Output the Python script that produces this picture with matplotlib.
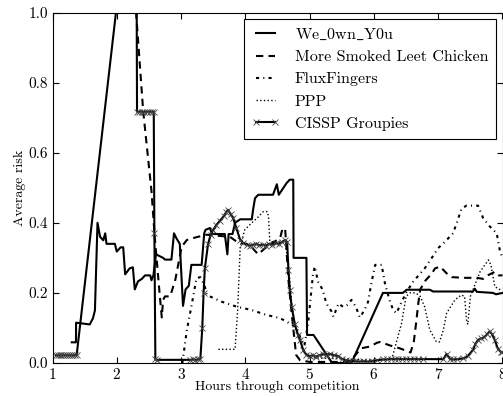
import matplotlib
matplotlib.use("Agg")
import matplotlib.pyplot as plt

plt.rcParams['font.family'] = ['cmr10', 'DejaVu Serif']
plt.rcParams['mathtext.fontset'] = 'cm'
plt.rcParams['axes.unicode_minus'] = False
plt.rcParams['axes.formatter.use_mathtext'] = True

# We_0wn_Y0u
we_x = [1.30, 1.365, 1.367, 1.58, 1.63, 1.66, 1.70, 1.74, 1.79, 1.82, 1.84, 1.97, 2.00,
        2.06, 2.10, 2.13, 2.20, 2.25, 2.28, 2.33, 2.39, 2.44, 2.52, 2.54, 2.57, 2.61,
        2.72, 2.75, 2.85, 2.89, 2.93, 2.98, 3.03, 3.07, 3.12, 3.16, 3.32, 3.36, 3.38,
        3.45, 3.48, 3.68, 3.72, 3.74, 3.80, 3.84, 3.92, 4.10, 4.12, 4.15, 4.20, 4.43,
        4.49, 4.52, 4.64, 4.69, 4.745, 4.75, 4.95, 4.96, 5.06, 5.35, 5.65, 6.14, 6.45,
        6.51, 6.87, 6.92, 7.54, 7.57, 7.60, 7.85, 7.90, 8.00]
we_y = [0.059, 0.059, 0.115, 0.11, 0.128, 0.15, 0.40, 0.36, 0.35, 0.37, 0.34, 0.34, 0.318,
        0.33, 0.33, 0.253, 0.27, 0.273, 0.21, 0.233, 0.24, 0.25, 0.25, 0.236, 0.25, 0.31,
        0.30, 0.295, 0.295, 0.37, 0.355, 0.34, 0.163, 0.21, 0.22, 0.28, 0.28, 0.37, 0.38,
        0.385, 0.368, 0.368, 0.31, 0.368, 0.368, 0.40, 0.41, 0.41, 0.437, 0.47, 0.48, 0.48,
        0.51, 0.48, 0.513, 0.523, 0.523, 0.30, 0.30, 0.08, 0.08, 0.0, 0.0, 0.20, 0.20,
        0.209, 0.209, 0.204, 0.204, 0.212, 0.203, 0.20, 0.196, 0.20]

# More Smoked Leet Chicken
msl_x = [2.22, 2.30, 2.41, 2.54, 2.59, 2.67, 2.70, 2.72, 2.75, 2.83, 2.91, 2.96, 3.01,
         3.09, 3.24, 3.40, 3.76, 3.86, 3.95, 4.02, 4.10, 4.20, 4.26, 4.35, 4.46, 4.54,
         4.58, 4.62, 4.67, 4.72, 4.77, 4.79, 4.85, 5.00, 5.60, 5.70, 5.80, 5.94, 6.05,
         6.10, 6.25, 6.40, 6.50, 6.57, 6.62, 6.66, 6.69, 6.72, 6.80, 6.90, 6.95, 7.03,
         7.13, 7.21, 7.40, 7.60, 7.70, 7.78, 7.88, 7.94, 8.00]
msl_y = [1.20, 1.0, 0.72, 0.49, 0.36, 0.19, 0.13, 0.18, 0.19, 0.19, 0.237, 0.285, 0.332,
         0.351, 0.359, 0.366, 0.36, 0.347, 0.342, 0.34, 0.33, 0.31, 0.32, 0.335, 0.347, 0.356,
         0.385, 0.38, 0.237, 0.142, 0.056, 0.023, 0.008, 0.003, 0.003, 0.02, 0.042, 0.047, 0.058,
         0.06, 0.05, 0.042, 0.035, 0.03, 0.06, 0.12, 0.17, 0.21, 0.235, 0.255, 0.27, 0.275,
         0.256, 0.245, 0.243, 0.243, 0.24, 0.251, 0.26, 0.25, 0.25]

# FluxFingers
ff_x = [3.02, 3.09, 3.16, 3.24, 3.30, 3.37, 3.40, 3.63, 3.86, 4.10, 4.33, 4.54, 4.69,
        4.80, 4.85, 4.92, 4.98, 5.05, 5.08, 5.13, 5.20, 5.26, 5.34, 5.37, 5.45, 5.52,
        5.58, 5.65, 5.72, 5.78, 5.85, 5.91, 5.96, 6.02, 6.12, 6.17, 6.25, 6.30, 6.35,
        6.42, 6.50, 6.61, 6.79, 6.90, 7.00, 7.10, 7.23, 7.29, 7.36, 7.44, 7.62, 7.70,
        7.80, 7.91, 7.96, 8.00]
ff_y = [0.0, 0.094, 0.161, 0.242, 0.245, 0.218, 0.194, 0.175, 0.161, 0.151, 0.137, 0.128, 0.113,
        0.10, 0.075, 0.05, 0.12, 0.25, 0.275, 0.232, 0.21, 0.17, 0.147, 0.132, 0.17, 0.16,
        0.165, 0.18, 0.16, 0.13, 0.15, 0.175, 0.228, 0.28, 0.28, 0.228, 0.175, 0.151, 0.142,
        0.17, 0.20, 0.232, 0.27, 0.30, 0.328, 0.345, 0.37, 0.40, 0.44, 0.449, 0.449, 0.413,
        0.39, 0.37, 0.32, 0.30]

# PPP
ppp_x = [3.58, 3.84, 3.88, 3.92, 3.99, 4.10, 4.18, 4.28, 4.34, 4.36, 4.38, 4.45, 4.55,
         4.62, 4.67, 4.72, 4.78, 4.85, 4.92, 5.00, 5.50, 6.00, 6.28, 6.35, 6.43, 6.50,
         6.56, 6.65, 6.72, 6.79, 6.87, 6.97, 7.02, 7.08, 7.13, 7.26, 7.36, 7.41, 7.44,
         7.46, 7.50, 7.65, 7.78, 7.82, 7.88, 7.95, 8.00]
ppp_y = [0.039, 0.039, 0.15, 0.332, 0.38, 0.40, 0.413, 0.432, 0.432, 0.418, 0.347, 0.345, 0.345,
         0.35, 0.28, 0.17, 0.10, 0.06, 0.03, 0.015, 0.012, 0.008, 0.012, 0.06, 0.113, 0.19,
         0.20, 0.20, 0.19, 0.16, 0.094, 0.061, 0.06, 0.094, 0.142, 0.18, 0.194, 0.19, 0.123,
         0.11, 0.19, 0.26, 0.294, 0.28, 0.218, 0.21, 0.21]

# CISSP Groupies
cg_x = [1.05, 1.08, 1.11, 1.14, 1.17, 1.20, 1.23, 1.26, 1.29, 1.32, 1.35, 1.376,
        2.30, 2.315, 2.35, 2.39, 2.43, 2.47, 2.51, 2.555, 2.575, 2.585, 2.60, 2.63,
        3.14, 3.18, 3.22, 3.26, 3.30, 3.33, 3.35, 3.37, 3.42, 3.46, 3.50, 3.55, 3.60,
        3.66, 3.70, 3.73, 3.77, 3.81, 3.86, 3.92, 3.97, 4.02, 4.07, 4.12, 4.17, 4.22,
        4.27, 4.32, 4.37, 4.42, 4.47, 4.52, 4.57, 4.62, 4.65, 4.67, 4.69, 4.72, 4.77,
        4.82, 4.85, 4.90, 4.95, 5.00, 5.05, 5.10, 5.15, 5.20, 5.26, 5.32, 5.38, 5.44,
        5.50, 5.56, 5.63, 5.70, 5.77, 5.83, 5.90, 5.97, 6.05, 6.14, 6.20, 6.26, 6.32,
        6.38, 6.44, 6.50, 6.56, 6.62, 6.68, 6.77, 7.08, 7.13, 7.18, 7.23, 7.30, 7.39,
        7.46, 7.54, 7.58, 7.62, 7.67, 7.72, 7.76, 7.80, 7.84, 7.88, 7.93, 7.97, 8.00]
cg_y = [0.022, 0.022, 0.022, 0.022, 0.022, 0.022, 0.022, 0.022, 0.022, 0.022, 0.022, 0.023,
        1.50, 0.717, 0.717, 0.717, 0.717, 0.717, 0.717, 0.717, 0.717, 0.37, 0.01, 0.009,
        0.009, 0.01, 0.009, 0.01, 0.012, 0.10, 0.20, 0.27, 0.34, 0.365, 0.38, 0.394, 0.405,
        0.418, 0.43, 0.437, 0.425, 0.413, 0.385, 0.351, 0.342, 0.338, 0.335, 0.337, 0.34, 0.336,
        0.338, 0.335, 0.34, 0.337, 0.342, 0.34, 0.345, 0.351, 0.345, 0.266, 0.209, 0.161, 0.11,
        0.08, 0.066, 0.037, 0.023, 0.02, 0.022, 0.018, 0.022, 0.025, 0.024, 0.026, 0.022, 0.02,
        0.012, 0.008, 0.006, 0.005, 0.004, 0.005, 0.004, 0.005, 0.008, 0.01, 0.01, 0.012, 0.011,
        0.012, 0.011, 0.012, 0.011, 0.012, 0.011, 0.011, 0.011, 0.026, 0.012, 0.01, 0.011, 0.013,
        0.02, 0.037, 0.055, 0.066, 0.07, 0.074, 0.082, 0.09, 0.082, 0.065, 0.04, 0.032, 0.03]

fig = plt.figure(figsize=(5.03, 3.97), dpi=100)
ax = fig.add_axes([52.5 / 503, 1 - 363 / 397, 450 / 503, 350.5 / 397])

lw = 1.5
ax.plot(we_x, we_y, '-', color='black', lw=lw, label=r'We$\_$0wn$\_$Y0u')
ax.plot(msl_x, msl_y, linestyle=(0, (3.5, 2.5)), color='black', lw=lw,
        label='More Smoked Leet Chicken')
ax.plot(ff_x, ff_y, linestyle=(0, (1.5, 2.0, 0.5, 2.0)), color='black', lw=lw,
        label='FluxFingers')
ax.plot(ppp_x, ppp_y, ':', color='black', lw=1.0, label='PPP')
ax.plot(cg_x, cg_y, '-', color='black', lw=lw, marker='x', markersize=4,
        markeredgewidth=0.6, markeredgecolor='#444444', label='CISSP Groupies')

ax.set_xlim(1, 8)
ax.set_ylim(0, 1.0)
ax.set_xticks([1, 2, 3, 4, 5, 6, 7, 8])
ax.set_yticks([0.0, 0.2, 0.4, 0.6, 0.8, 1.0])
ax.set_yticklabels(['0.0', '0.2', '0.4', '0.6', '0.8', '1.0'])
ax.tick_params(direction='in', top=True, right=True, length=4, labelsize=11, pad=3)
ax.set_xlabel('Hours through competition', fontsize=10, labelpad=-1)
ax.set_ylabel('Average risk', fontsize=10, labelpad=2)

leg = ax.legend(loc='upper right', fontsize=11.5, numpoints=2, fancybox=False,
                edgecolor='black', framealpha=1, handlelength=1.8, handletextpad=0.9,
                borderpad=0.5, borderaxespad=0.4)
leg.get_frame().set_linewidth(0.8)

fig.savefig('out.png', dpi=100)
